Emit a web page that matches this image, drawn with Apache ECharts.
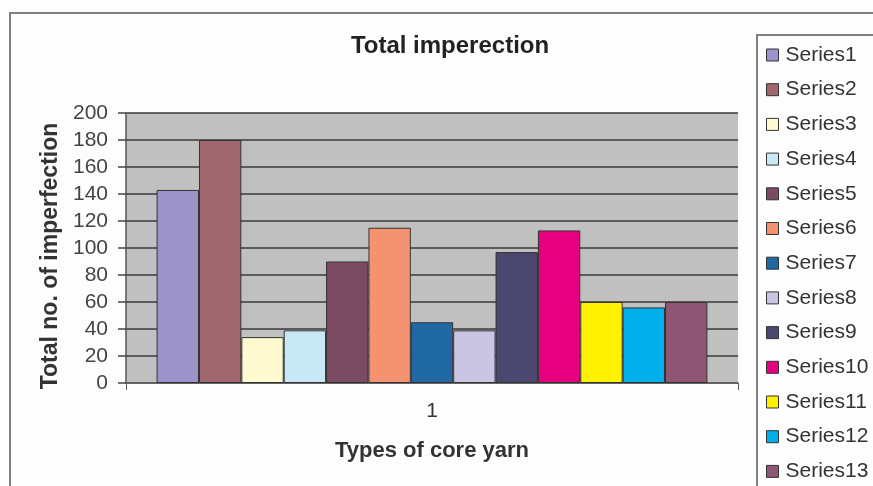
<!DOCTYPE html>
<html>
<head>
<meta charset="utf-8">
<script src="https://cdn.jsdelivr.net/npm/echarts@6/dist/echarts.min.js"></script>
<style>
  html, body { margin: 0; padding: 0; background: #fdfdfd; }
  #chart { width: 873px; height: 486px; }
</style>
</head>
<body>
<div id="chart"></div>
<script>
// Core yarn types on the category axis
const categories = ['1'];

// One bar per series: total imperfection count
const seriesNames = [
  'Series1', 'Series2', 'Series3', 'Series4', 'Series5', 'Series6', 'Series7',
  'Series8', 'Series9', 'Series10', 'Series11', 'Series12', 'Series13'
];
const seriesValues = [143, 180, 34, 39, 90, 115, 45, 39, 97, 113, 60, 56, 60];

// y-axis tick range
const yMin = 0;
const yMax = 200;
const yStep = 20;

const seriesColors = [
  '#9b93c9', '#a0686e', '#fffad0', '#c8e8f6', '#7a4b62', '#f49272', '#1f68a4',
  '#c9c5e3', '#4b4870', '#e6007f', '#fff100', '#00aeea', '#8f5674'
];

const chart = echarts.init(document.getElementById('chart'), null, { renderer: 'canvas' });

const font = '"Liberation Sans", Arial, sans-serif';

chart.setOption({
  backgroundColor: '#fdfdfd',
  animation: false,
  graphic: [
    // outer chart frame
    { type: 'rect', silent: true, z: -10,
      shape: { x: 10, y: 13, width: 900, height: 500 },
      style: { fill: 'none', stroke: '#808080', lineWidth: 2 } },
    // legend frame
    { type: 'rect', silent: true, z: -9,
      shape: { x: 757, y: 35, width: 200, height: 500 },
      style: { fill: '#fdfdfd', stroke: '#808080', lineWidth: 2 } },
    // chart title
    { type: 'text', silent: true,
      x: 450, y: 46,
      style: { text: 'Total imperection', font: 'bold 24px ' + font,
               fill: '#222', align: 'center', verticalAlign: 'middle' } }
  ],
  grid: {
    left: 126, right: 135, top: 113, bottom: 103,
    show: true, backgroundColor: '#c0c0c0', borderWidth: 0
  },
  legend: {
    orient: 'vertical',
    left: 766, top: 44,
    padding: 0,
    icon: 'rect',
    itemWidth: 12, itemHeight: 12,
    itemGap: 12.7,
    itemStyle: { borderColor: '#333', borderWidth: 1 },
    textStyle: { fontFamily: font, fontSize: 21, color: '#333', lineHeight: 22, padding: [0, 0, 0, 2] },
    data: seriesNames
  },
  xAxis: {
    type: 'category',
    data: categories,
    name: 'Types of core yarn',
    nameLocation: 'middle',
    nameGap: 57,
    nameTextStyle: { fontFamily: font, fontSize: 22, fontWeight: 'bold', color: '#333' },
    axisLine: { lineStyle: { color: '#666', width: 1.5 } },
    axisTick: { show: true, length: 7, lineStyle: { color: '#555' } },
    axisLabel: { margin: 18, fontFamily: font, fontSize: 21, color: '#333' }
  },
  yAxis: {
    type: 'value',
    min: yMin, max: yMax, interval: yStep,
    name: 'Total no. of imperfection',
    nameLocation: 'middle',
    nameGap: 64,
    nameTextStyle: { fontFamily: font, fontSize: 23, fontWeight: 'bold', color: '#333', padding: [0, 16, 0, 0] },
    axisLine: { show: true, lineStyle: { color: '#555', width: 1.5 } },
    axisTick: { show: true, length: 8, lineStyle: { color: '#444', width: 1.5 } },
    axisLabel: { margin: 18, fontFamily: font, fontSize: 21, color: '#444' },
    splitLine: { show: true, lineStyle: { color: '#3a3a3a', width: 1.5 } }
  },
  series: seriesNames.map((name, i) => ({
    name: name,
    type: 'bar',
    data: [seriesValues[i]],
    barGap: '0%',
    barCategoryGap: '10%',
    itemStyle: { color: seriesColors[i], borderColor: '#333', borderWidth: 1 }
  }))
});
</script>
</body>
</html>
